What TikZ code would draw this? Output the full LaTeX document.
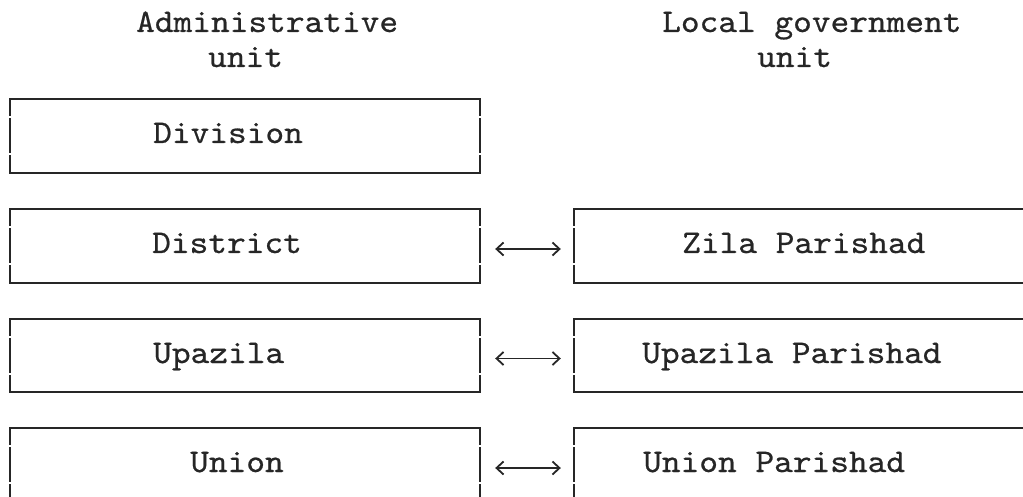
\documentclass[tikz,border=0pt]{standalone}
\usepackage{fontspec}
\setmonofont{lmmono10-regular.otf}[FakeStretch=1.08,FakeBold=0.6]
\usetikzlibrary{arrows.meta}
\definecolor{ink}{HTML}{262626}
\tikzset{
  boxline/.style={draw=ink, line width=2pt, line cap=rect},
  lbox/.style={rectangle, draw=none, inner sep=0pt, minimum width=470pt, minimum height=73pt},
  rbox/.style={rectangle, draw=none, inner sep=0pt, minimum width=470pt, minimum height=73pt},
  txt/.style={inner sep=0pt, anchor=base west, text=ink, font=\ttfamily\fontsize{33}{40}\selectfont},
  biarrow/.style={draw=ink, line width=1.4pt, {Straight Barb[length=7pt,width=13pt,line width=1.8pt]}-{Straight Barb[length=7pt,width=13pt,line width=1.8pt]}, shorten <=15pt, shorten >=13pt}
}
\newcommand\gapbox[1]{%
  \draw[boxline] (#1.north west) -- (#1.north east) (#1.south west) -- (#1.south east);
  \foreach \s in {west,east}{\draw[boxline] (#1.north \s) -- ++(0,16) ++(0,4) -- ++(0,33) ++(0,4) -- (#1.south \s);}
}
\begin{document}
\begin{tikzpicture}[x=1pt,y=-1pt]
\clip (0,0) rectangle (1023,497);
\fill[white] (0,0) rectangle (1023,497);
% headers
\node[txt] (hadm) at (136,32) {Administrative};
\node[txt] (hadmu) at (208,67) {unit};
\node[txt] (hloc) at (662,32) {Local government};
\node[txt] (hlocu) at (757,67) {unit};
% left boxes
\node[lbox] (division) at (245,136) {};
\node[lbox] (district) at (245,246) {};
\node[lbox] (upazila) at (245,355.5) {};
\node[lbox] (union) at (245,465) {};
% right boxes
\node[rbox] (zila) at (809,246) {};
\node[rbox] (upp) at (809,355.5) {};
\node[rbox] (unp) at (809,465) {};
\gapbox{division}
\gapbox{district}
\gapbox{upazila}
\gapbox{union}
\gapbox{zila}
\gapbox{upp}
\gapbox{unp}
% labels
\node[txt] (tdiv) at (153,143) {Division};
\node[txt] (tdis) at (152,253) {District};
\node[txt] (tupa) at (153,363) {Upazila};
\node[txt] (tuni) at (190,472) {Union};
\node[txt] (tzil) at (682,253) {Zila Parishad};
\node[txt] (tupp) at (642,363) {Upazila Parishad};
\node[txt] (tunp) at (643,472) {Union Parishad};
% connectors
\draw[biarrow] ([yshift=-3pt]district.east) -- ([yshift=-3pt]zila.west);
\draw[biarrow] ([yshift=-3pt]upazila.east) -- ([yshift=-3pt]upp.west);
\draw[biarrow] ([yshift=-3pt]union.east) -- ([yshift=-3pt]unp.west);
\end{tikzpicture}
\end{document}
